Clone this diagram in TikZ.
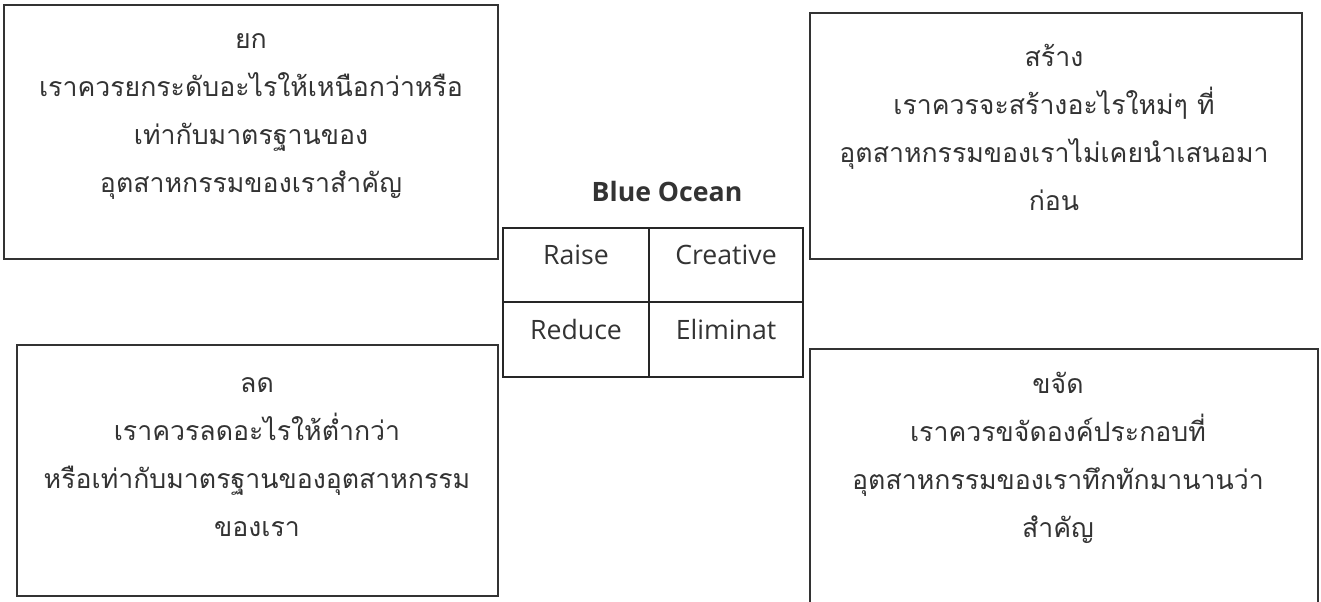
\documentclass[tikz,border=0pt]{standalone}
\usepackage{fontspec}
\setmainfont[Script=Thai]{Loma}
\newfontfamily\latinfont{Open Sans}
\usetikzlibrary{fit}

\tikzset{quad/.style={draw=black!80, line width=1.3pt, inner sep=0pt},
         cell/.style={draw=black!85, line width=2pt, inner sep=0pt, text=black!80,
                      font=\latinfont\fontsize{20}{24}\selectfont},
         txt/.style={align=center, text=black!80, font=\fontsize{20}{36}\selectfont}}

\begin{document}
\begin{tikzpicture}[x=0.75pt,y=-0.75pt]
\useasboundingbox (0,0) rectangle (1321,601);
\clip (0,0) rectangle (1321,601);
% four quadrants
\node[quad, fit={(4,5) (498,259)}] (raisebox) {};
\node[quad, fit={(810,13) (1302,259)}] (createbox) {};
\node[quad, fit={(17,345) (498,596)}] (reducebox) {};
\node[quad, fit={(810,349) (1318,650)}] (elimbox) {};
\node[txt] (raisetxt) at (251,116) {ยก\\เราควรยกระดับอะไรให้เหนือกว่าหรือ\\เท่ากับมาตรฐานของ\\อุตสาหกรรมของเราสำคัญ};
\node[txt] (createtxt) at (1054,127) {สร้าง\\เราควรจะสร้างอะไรใหม่ๆ ที่\\อุตสาหกรรมของเราไม่เคยนำเสนอมา\\ก่อน};
\node[txt] (reducetxt) at (257,457) {ลด\\เราควรลดอะไรให้ต่ำกว่า\\หรือเท่ากับมาตรฐานของอุตสาหกรรม\\ของเรา};
\node[txt] (elimtxt) at (1058,458) {ขจัด\\เราควรขจัดองค์ประกอบที่\\อุตสาหกรรมของเราทึกทักมานานว่า\\สำคัญ};
% the grid in the middle
\node[text=black!80, font=\latinfont\fontsize{20}{24}\selectfont\bfseries] (title) at (667,191) {Blue Ocean};
\node[cell, fit={(503,228) (649,302)}] (raise) {Raise};
\node[cell, fit={(649,228) (803,302)}] (creative) {Creative};
\node[cell, fit={(503,302) (649,377)}] (reduce) {Reduce};
\node[cell, fit={(649,302) (803,377)}] (elim) {Eliminat};
\end{tikzpicture}
\end{document}
